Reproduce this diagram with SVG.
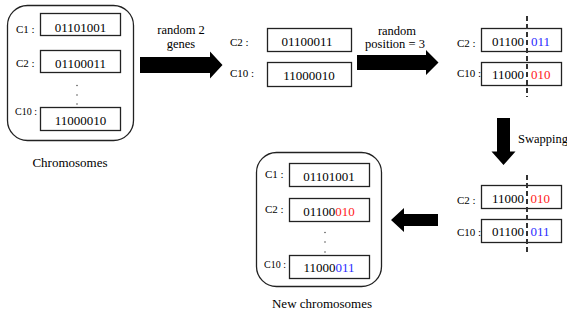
<svg xmlns="http://www.w3.org/2000/svg" width="567" height="320" viewBox="0 0 567 320" font-family="'Liberation Serif', 'DejaVu Serif', 'Times New Roman', serif">
<style>
text{font-family:"Liberation Serif","DejaVu Serif","Times New Roman",serif;fill:#000}
.box{fill:#fff;stroke:#222;stroke-width:1.3}
.cont{fill:#fff;stroke:#222;stroke-width:1.3}
.v{font-size:13px}
.l{font-size:11px}
.s{font-size:10px}
.cap{font-size:13px}
.t{font-size:12.5px}
.dot{fill:#333}
.dash{stroke:#333;stroke-width:2;stroke-dasharray:5 3;fill:none}
.arr{fill:#000}
.r{fill:#ff1a1a}
.b{fill:#2a2aff}
</style>
<rect width="567" height="320" fill="#fff"/>
<g id="chromosomes">
<rect class="cont" x="7.5" y="5.5" width="126" height="135" rx="20"/>
<text class="l" x="16" y="32.5">C1 :</text>
<rect class="box" x="40.5" y="13.5" width="80" height="22"/>
<text class="v" x="80.5" y="32" text-anchor="middle">01101001</text>
<text class="l" x="16" y="66.5">C2 :</text>
<rect class="box" x="40.5" y="50.5" width="80" height="22"/>
<text class="v" x="80.5" y="68" text-anchor="middle">01100011</text>
<circle class="dot" cx="77" cy="85.5" r="0.7"/>
<circle class="dot" cx="77" cy="95" r="0.7"/>
<circle class="dot" cx="77" cy="104" r="0.7"/>
<text class="s" x="15" y="115">C10 :</text>
<rect class="box" x="40.5" y="107.5" width="80" height="23"/>
<text class="v" x="80.5" y="125" text-anchor="middle">11000010</text>
<text class="cap" x="70" y="167" text-anchor="middle">Chromosomes</text>
</g>
<g id="selected">
<text class="l" x="230" y="46">C2 :</text>
<rect class="box" x="267.5" y="28.5" width="84" height="23"/>
<text class="v" x="307" y="45.5" text-anchor="middle">01100011</text>
<text class="l" x="230" y="77">C10 :</text>
<rect class="box" x="267.5" y="62.5" width="84" height="24"/>
<text class="v" x="309" y="80" text-anchor="middle">11000010</text>
</g>
<g id="split">
<text class="l" x="457" y="46.5">C2 :</text>
<rect class="box" x="481.5" y="28.5" width="80" height="23"/>
<text class="v" x="492" y="45.5">01100<tspan class="b" x="531">011</tspan></text>
<text class="l" x="457" y="77">C10 :</text>
<rect class="box" x="481.5" y="62.5" width="80" height="23"/>
<text class="v" x="492" y="78.5">11000<tspan class="r" x="531">010</tspan></text>
<line class="dash" x1="527" y1="16" x2="527" y2="97"/>
</g>
<g id="swapped">
<text class="l" x="457" y="203.5">C2 :</text>
<rect class="box" x="481.5" y="185.5" width="80" height="23"/>
<text class="v" x="492" y="203">11000<tspan class="r" x="530.5">010</tspan></text>
<text class="l" x="457" y="235.5">C10 :</text>
<rect class="box" x="481.5" y="219.5" width="80" height="23"/>
<text class="v" x="492" y="235.5">01100<tspan class="b" x="530.5">011</tspan></text>
<line class="dash" x1="527" y1="175" x2="527" y2="253"/>
</g>
<g id="new-chromosomes">
<rect class="cont" x="256.5" y="152.5" width="125" height="134" rx="20"/>
<text class="l" x="265" y="178">C1 :</text>
<rect class="box" x="289.5" y="163.5" width="80" height="23"/>
<text class="v" x="329" y="180.5" text-anchor="middle">01101001</text>
<text class="l" x="265" y="213">C2 :</text>
<rect class="box" x="289.5" y="198.5" width="80" height="23"/>
<text class="v" x="329" y="215.5" text-anchor="middle">01100<tspan class="r">010</tspan></text>
<circle class="dot" cx="325" cy="232.5" r="0.7"/>
<circle class="dot" cx="325" cy="242" r="0.7"/>
<circle class="dot" cx="325" cy="252" r="0.7"/>
<text class="s" x="264" y="268">C10 :</text>
<rect class="box" x="289.5" y="255.5" width="80" height="23"/>
<text class="v" x="329" y="272" text-anchor="middle">11000<tspan class="b">011</tspan></text>
<text class="cap" x="322" y="308" text-anchor="middle">New chromosomes</text>
</g>
<g id="connectors">
<polygon class="arr" points="140,57 210,57 210,51.5 222.5,65 210,78.5 210,73 140,73"/>
<polygon class="arr" points="357,55 426,55 426,50 438.5,62.5 426,75 426,70 357,70"/>
<polygon class="arr" points="497,118 510,118 510,151.5 515.5,151.5 503.5,165 491.5,151.5 497,151.5"/>
<polygon class="arr" points="438,214 404,214 404,208 391,220 404,232 404,226 438,226"/>
<text class="t" x="181" y="34" text-anchor="middle">random 2</text>
<text class="t" x="181" y="48" text-anchor="middle">genes</text>
<text class="t" x="397" y="35" text-anchor="middle">random</text>
<text class="t" x="395" y="48" text-anchor="middle">position = 3</text>
<text class="t" x="518" y="143">Swapping</text>
</g>
</svg>
